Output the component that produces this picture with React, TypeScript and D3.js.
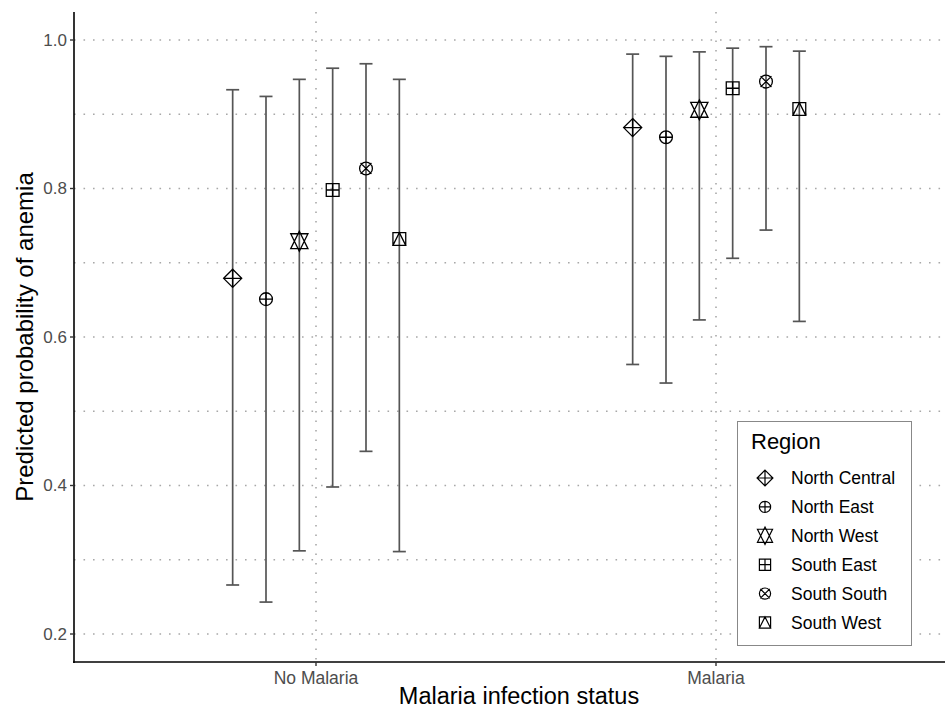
import React from 'react'
import * as d3 from 'd3'

// categories and series
const statuses = ['No Malaria', 'Malaria']
const regions = ['North Central', 'North East', 'North West', 'South East', 'South South', 'South West']
const shapes = ['diamondPlus', 'circlePlus', 'triUpDown', 'squarePlus', 'circleCross', 'squareTriangle']

// predicted probability, by region, for [No Malaria, Malaria]
const estimate = [
  [0.679, 0.882],
  [0.651, 0.869],
  [0.729, 0.906],
  [0.798, 0.935],
  [0.827, 0.944],
  [0.732, 0.907],
]
const lower = [
  [0.266, 0.563],
  [0.243, 0.538],
  [0.312, 0.623],
  [0.398, 0.706],
  [0.446, 0.744],
  [0.311, 0.621],
]
const upper = [
  [0.933, 0.981],
  [0.924, 0.978],
  [0.947, 0.984],
  [0.962, 0.989],
  [0.968, 0.991],
  [0.947, 0.985],
]

const yTicks = [0.2, 0.4, 0.6, 0.8, 1.0]
const yMinor = [0.3, 0.5, 0.7, 0.9]

const W = 945
const H = 713
const panel = { left: 74, top: 12, right: 956, bottom: 662 }
const font = '"Liberation Sans", Arial, Helvetica, sans-serif'

// R-style open point symbols
function symbolPath(shape: string, cx: number, cy: number, R: number): string {
  const p = d3.path()
  const line = (x1: number, y1: number, x2: number, y2: number) => {
    p.moveTo(cx + x1, cy + y1)
    p.lineTo(cx + x2, cy + y2)
  }
  const poly = (pts: number[][]) => {
    p.moveTo(cx + pts[0][0], cy + pts[0][1])
    pts.slice(1).forEach(q => p.lineTo(cx + q[0], cy + q[1]))
    p.closePath()
  }
  const circle = (r: number) => {
    p.moveTo(cx + r, cy)
    p.arc(cx, cy, r, 0, Math.PI * 2)
  }
  if (shape === 'diamondPlus') {
    const d = R * Math.SQRT2
    poly([[0, -d], [d, 0], [0, d], [-d, 0]])
    line(-d, 0, d, 0)
    line(0, -d, 0, d)
  } else if (shape === 'circlePlus') {
    circle(R)
    line(-R, 0, R, 0)
    line(0, -R, 0, R)
  } else if (shape === 'triUpDown') {
    const r = 1.5551 * R
    const yc = 0.5 * (0.7776 * R + r)
    const xc = 1.3468 * R
    poly([[0, -r], [xc, yc], [-xc, yc]])
    poly([[0, r], [xc, -yc], [-xc, -yc]])
  } else if (shape === 'squarePlus') {
    poly([[-R, -R], [R, -R], [R, R], [-R, R]])
    line(-R, 0, R, 0)
    line(0, -R, 0, R)
  } else if (shape === 'circleCross') {
    circle(R)
    const c = R * 0.85
    line(-c, -c, c, c)
    line(-c, c, c, -c)
  } else {
    poly([[-R, -R], [R, -R], [R, R], [-R, R]])
    poly([[0, -R], [R, R], [-R, R]])
  }
  return p.toString()
}

export default function App() {
  const x = d3.scalePoint<string>().domain(statuses).range([panel.left + 2, panel.right]).padding(0.6)
  const y = d3.scaleLinear().domain([0.2, 1.0]).range([634, 40])
  const dodge = d3.scaleBand<string>().domain(regions).range([-100, 100])

  const gridColor = '#a8a8a8'
  const barColor = '#555555'

  return (
    <svg width={W} height={H} style={{ position: 'absolute', left: 0, top: 0, background: '#fff' }} fontFamily={font}>
      {/* grid */}
      <g stroke={gridColor} strokeWidth={1.6} strokeDasharray="1.6,7.9" strokeLinecap="butt">
        {[...yTicks, ...yMinor].map(t => (
          <line key={'h' + t} x1={panel.left} x2={W} y1={y(t)} y2={y(t)} />
        ))}
        {statuses.map(s => (
          <line key={'v' + s} x1={x(s)} x2={x(s)} y1={panel.top} y2={panel.bottom} />
        ))}
      </g>

      {/* error bars and points */}
      {regions.map((reg, i) =>
        statuses.map((s, j) => {
          const cx = (x(s) as number) + (dodge(reg) as number) + dodge.bandwidth() / 2
          return (
            <g key={reg + s}>
              <g stroke={barColor} strokeWidth={1.7}>
                <line x1={cx} x2={cx} y1={y(upper[i][j])} y2={y(lower[i][j])} />
                <line x1={cx - 6.5} x2={cx + 6.5} y1={y(upper[i][j])} y2={y(upper[i][j])} />
                <line x1={cx - 6.5} x2={cx + 6.5} y1={y(lower[i][j])} y2={y(lower[i][j])} />
              </g>
              <path d={symbolPath(shapes[i], cx, y(estimate[i][j]), 6.4)} fill="none" stroke="#000" strokeWidth={1.3} />
            </g>
          )
        })
      )}

      {/* axes */}
      <line x1={panel.left} x2={panel.left} y1={panel.top} y2={panel.bottom + 1} stroke="#000" strokeWidth={1.6} />
      <line x1={panel.left - 1} x2={W} y1={panel.bottom} y2={panel.bottom} stroke="#000" strokeWidth={1.6} />
      {yTicks.map(t => (
        <g key={'yt' + t}>
          <line x1={panel.left - 4} x2={panel.left} y1={y(t)} y2={y(t)} stroke="#333" strokeWidth={1.4} />
          <text x={panel.left - 7} y={y(t)} dy="0.35em" textAnchor="end" fontSize={17} fill="#4d4d4d">
            {d3.format('.1f')(t)}
          </text>
        </g>
      ))}
      {statuses.map(s => (
        <g key={'xt' + s}>
          <line x1={x(s)} x2={x(s)} y1={panel.bottom} y2={panel.bottom + 4} stroke="#333" strokeWidth={1.4} />
          <text x={x(s)} y={panel.bottom + 22} textAnchor="middle" fontSize={17.5} fill="#4d4d4d">
            {s}
          </text>
        </g>
      ))}
      <text x={519} y={704} textAnchor="middle" fontSize={23.5} fill="#000">
        Malaria infection status
      </text>
      <text transform={`translate(33,${(panel.top + panel.bottom) / 2}) rotate(-90)`} textAnchor="middle" fontSize={24} fill="#000">
        Predicted probability of anemia
      </text>

      {/* legend */}
      <g>
        <rect x={737.5} y={421.5} width={174} height={224} fill="#fff" stroke="#888" strokeWidth={1} />
        <text x={751} y={449} fontSize={22} fill="#000">Region</text>
        {regions.map((reg, i) => {
          const ly = 478 + i * 28.9
          return (
            <g key={'lg' + reg}>
              <path d={symbolPath(shapes[i], 765, ly, 5.6)} fill="none" stroke="#000" strokeWidth={1.2} />
              <text x={791} y={ly} dy="0.35em" fontSize={17.5} fill="#000">{reg}</text>
            </g>
          )
        })}
      </g>
    </svg>
  )
}
